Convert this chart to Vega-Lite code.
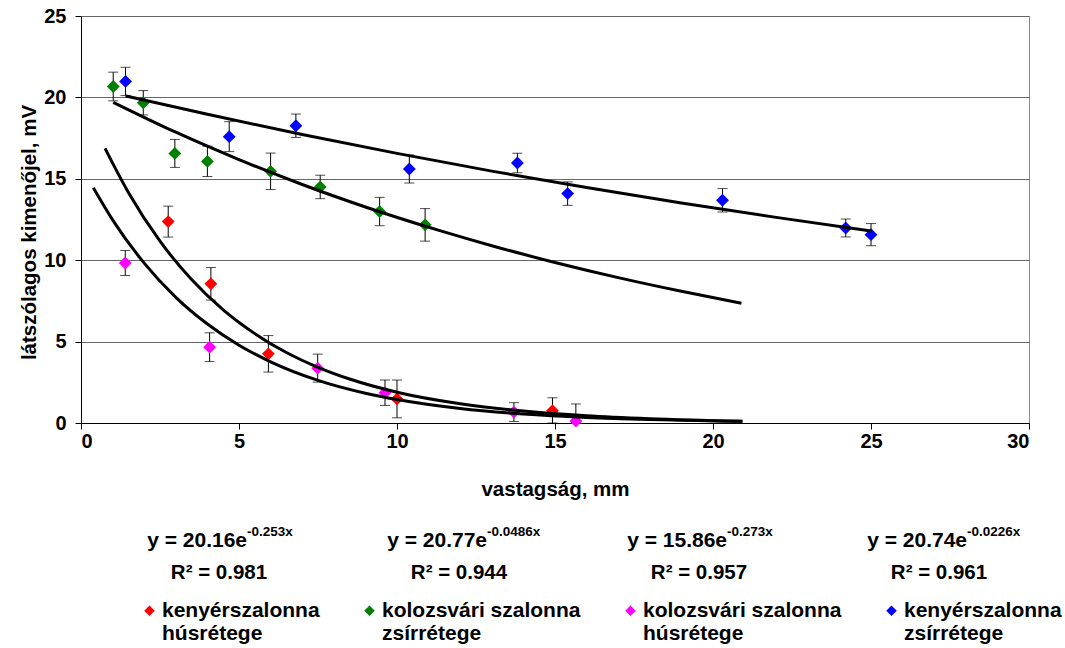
{
  "$schema": "https://vega.github.io/schema/vega-lite/v6.json",
  "padding": {"left": 19, "top": 5, "right": 0, "bottom": 0},
  "background": "white",
  "spacing": 0,
  "config": {
    "font": "Liberation Sans",
    "view": {"stroke": null},
    "axis": {
      "labelFont": "Liberation Sans", "labelFontWeight": "bold", "labelFontSize": 20, "labelColor": "black",
      "titleFont": "Liberation Sans", "titleFontWeight": "bold", "titleFontSize": 20.5, "titleColor": "black",
      "domainColor": "black", "tickColor": "black", "tickSize": 6, "gridColor": "#666666", "gridWidth": 1
    }
  },
  "datasets": {
    "pts": [
      {"series": "kenyérszalonna húsrétege", "x": 2.76, "y": 12.37, "lo": 11.42, "hi": 13.32},
      {"series": "kenyérszalonna húsrétege", "x": 4.11, "y": 8.55, "lo": 7.55, "hi": 9.55},
      {"series": "kenyérszalonna húsrétege", "x": 5.93, "y": 4.25, "lo": 3.13, "hi": 5.37},
      {"series": "kenyérszalonna húsrétege", "x": 10.0, "y": 1.48, "lo": 0.32, "hi": 2.64},
      {"series": "kenyérszalonna húsrétege", "x": 14.92, "y": 0.75, "lo": 0.0, "hi": 1.55},
      {"series": "kolozsvári szalonna zsírrétege", "x": 1.02, "y": 20.67, "lo": 19.79, "hi": 21.55},
      {"series": "kolozsvári szalonna zsírrétege", "x": 1.97, "y": 19.67, "lo": 18.92, "hi": 20.42},
      {"series": "kolozsvári szalonna zsírrétege", "x": 2.97, "y": 16.56, "lo": 15.7, "hi": 17.42},
      {"series": "kolozsvári szalonna zsírrétege", "x": 4.0, "y": 16.07, "lo": 15.14, "hi": 17.0},
      {"series": "kolozsvári szalonna zsírrétege", "x": 6.0, "y": 15.46, "lo": 14.34, "hi": 16.58},
      {"series": "kolozsvári szalonna zsírrétege", "x": 7.57, "y": 14.5, "lo": 13.78, "hi": 15.22},
      {"series": "kolozsvári szalonna zsírrétege", "x": 9.45, "y": 12.99, "lo": 12.12, "hi": 13.86},
      {"series": "kolozsvári szalonna zsírrétege", "x": 10.89, "y": 12.17, "lo": 11.17, "hi": 13.17},
      {"series": "kolozsvári szalonna húsrétege", "x": 1.4, "y": 9.83, "lo": 9.06, "hi": 10.6},
      {"series": "kolozsvári szalonna húsrétege", "x": 4.07, "y": 4.66, "lo": 3.78, "hi": 5.54},
      {"series": "kolozsvári szalonna húsrétege", "x": 7.49, "y": 3.37, "lo": 2.51, "hi": 4.23},
      {"series": "kolozsvári szalonna húsrétege", "x": 9.62, "y": 1.86, "lo": 1.08, "hi": 2.64},
      {"series": "kolozsvári szalonna húsrétege", "x": 13.7, "y": 0.67, "lo": 0.09, "hi": 1.25},
      {"series": "kolozsvári szalonna húsrétege", "x": 15.66, "y": 0.12, "lo": 0.0, "hi": 1.17},
      {"series": "kenyérszalonna zsírrétege", "x": 1.41, "y": 20.98, "lo": 20.11, "hi": 21.85},
      {"series": "kenyérszalonna zsírrétege", "x": 4.69, "y": 17.59, "lo": 16.67, "hi": 18.51},
      {"series": "kenyérszalonna zsírrétege", "x": 6.8, "y": 18.26, "lo": 17.54, "hi": 18.98},
      {"series": "kenyérszalonna zsírrétege", "x": 10.39, "y": 15.6, "lo": 14.74, "hi": 16.46},
      {"series": "kenyérszalonna zsírrétege", "x": 13.81, "y": 15.97, "lo": 15.37, "hi": 16.57},
      {"series": "kenyérszalonna zsírrétege", "x": 15.4, "y": 14.09, "lo": 13.37, "hi": 14.81},
      {"series": "kenyérszalonna zsírrétege", "x": 20.3, "y": 13.68, "lo": 12.96, "hi": 14.4},
      {"series": "kenyérszalonna zsírrétege", "x": 24.2, "y": 11.98, "lo": 11.43, "hi": 12.53},
      {"series": "kenyérszalonna zsírrétege", "x": 25.0, "y": 11.57, "lo": 10.89, "hi": 12.25}
    ],
    "trend": [
      {"series": "kenyérszalonna húsrétege", "x": 0.76, "y": 16.87},
      {"series": "kenyérszalonna húsrétege", "x": 1.5, "y": 14.16},
      {"series": "kenyérszalonna húsrétege", "x": 2.5, "y": 11.17},
      {"series": "kenyérszalonna húsrétege", "x": 3.5, "y": 8.81},
      {"series": "kenyérszalonna húsrétege", "x": 4.5, "y": 6.95},
      {"series": "kenyérszalonna húsrétege", "x": 5.5, "y": 5.49},
      {"series": "kenyérszalonna húsrétege", "x": 6.5, "y": 4.33},
      {"series": "kenyérszalonna húsrétege", "x": 7.5, "y": 3.42},
      {"series": "kenyérszalonna húsrétege", "x": 8.5, "y": 2.7},
      {"series": "kenyérszalonna húsrétege", "x": 10.0, "y": 1.89},
      {"series": "kenyérszalonna húsrétege", "x": 12.0, "y": 1.18},
      {"series": "kenyérszalonna húsrétege", "x": 14.0, "y": 0.73},
      {"series": "kenyérszalonna húsrétege", "x": 16.0, "y": 0.44},
      {"series": "kenyérszalonna húsrétege", "x": 18.0, "y": 0.26},
      {"series": "kenyérszalonna húsrétege", "x": 20.93, "y": 0.1},
      {"series": "kolozsvári szalonna húsrétege", "x": 0.39, "y": 14.45},
      {"series": "kolozsvári szalonna húsrétege", "x": 1.0, "y": 12.48},
      {"series": "kolozsvári szalonna húsrétege", "x": 2.0, "y": 9.82},
      {"series": "kolozsvári szalonna húsrétege", "x": 3.0, "y": 7.72},
      {"series": "kolozsvári szalonna húsrétege", "x": 4.0, "y": 6.08},
      {"series": "kolozsvári szalonna húsrétege", "x": 5.0, "y": 4.78},
      {"series": "kolozsvári szalonna húsrétege", "x": 6.0, "y": 3.76},
      {"series": "kolozsvári szalonna húsrétege", "x": 7.5, "y": 2.62},
      {"series": "kolozsvári szalonna húsrétege", "x": 9.0, "y": 1.83},
      {"series": "kolozsvári szalonna húsrétege", "x": 10.0, "y": 1.44},
      {"series": "kolozsvári szalonna húsrétege", "x": 12.0, "y": 0.89},
      {"series": "kolozsvári szalonna húsrétege", "x": 14.0, "y": 0.55},
      {"series": "kolozsvári szalonna húsrétege", "x": 16.0, "y": 0.34},
      {"series": "kolozsvári szalonna húsrétege", "x": 18.0, "y": 0.21},
      {"series": "kolozsvári szalonna húsrétege", "x": 20.93, "y": 0.1},
      {"series": "kolozsvári szalonna zsírrétege", "x": 1.02, "y": 19.7},
      {"series": "kolozsvári szalonna zsírrétege", "x": 3.0, "y": 17.86},
      {"series": "kolozsvári szalonna zsírrétege", "x": 5.0, "y": 16.18},
      {"series": "kolozsvári szalonna zsírrétege", "x": 7.0, "y": 14.65},
      {"series": "kolozsvári szalonna zsírrétege", "x": 9.0, "y": 13.27},
      {"series": "kolozsvári szalonna zsírrétege", "x": 11.33, "y": 11.83},
      {"series": "kolozsvári szalonna zsírrétege", "x": 13.0, "y": 10.89},
      {"series": "kolozsvári szalonna zsírrétege", "x": 15.0, "y": 9.86},
      {"series": "kolozsvári szalonna zsírrétege", "x": 17.0, "y": 8.93},
      {"series": "kolozsvári szalonna zsírrétege", "x": 19.0, "y": 8.09},
      {"series": "kolozsvári szalonna zsírrétege", "x": 20.9, "y": 7.36},
      {"series": "kenyérszalonna zsírrétege", "x": 1.41, "y": 20.09},
      {"series": "kenyérszalonna zsírrétege", "x": 4.0, "y": 18.96},
      {"series": "kenyérszalonna zsírrétege", "x": 7.0, "y": 17.72},
      {"series": "kenyérszalonna zsírrétege", "x": 10.0, "y": 16.56},
      {"series": "kenyérszalonna zsírrétege", "x": 13.0, "y": 15.47},
      {"series": "kenyérszalonna zsírrétege", "x": 16.0, "y": 14.46},
      {"series": "kenyérszalonna zsírrétege", "x": 19.0, "y": 13.51},
      {"series": "kenyérszalonna zsírrétege", "x": 22.0, "y": 12.63},
      {"series": "kenyérszalonna zsírrétege", "x": 25.0, "y": 11.8}
    ],
    "eqs": [
      {"series": "kenyérszalonna húsrétege", "eq": "y = 20.16e", "exp": "-0.253x", "r2": "R² = 0.981"},
      {"series": "kolozsvári szalonna zsírrétege", "eq": "y = 20.77e", "exp": "-0.0486x", "r2": "R² = 0.944"},
      {"series": "kolozsvári szalonna húsrétege", "eq": "y = 15.86e", "exp": "-0.273x", "r2": "R² = 0.957"},
      {"series": "kenyérszalonna zsírrétege", "eq": "y = 20.74e", "exp": "-0.0226x", "r2": "R² = 0.961"}
    ]
  },
  "vconcat": [
    {
      "width": 948,
      "height": 407,
      "view": {"stroke": "#888888"},
      "layer": [
        {
          "data": {"name": "pts"},
          "mark": {"type": "rule", "color": "black", "strokeWidth": 1},
          "encoding": {
            "x": {"field": "x", "type": "quantitative", "title": "vastagság, mm",
                  "scale": {"domain": [0, 30], "nice": false},
                  "axis": {"values": [0, 5, 10, 15, 20, 25, 30], "grid": false, "labelPadding": 2, "titlePadding": 28}},
            "y": {"field": "lo", "type": "quantitative", "title": "látszólagos kimenőjel, mV",
                  "scale": {"domain": [0, 25], "nice": false},
                  "axis": {"values": [0, 5, 10, 15, 20, 25], "grid": true, "labelPadding": 9, "titlePadding": 4, "titleY": 216}},
            "y2": {"field": "hi"}
          }
        },
        {
          "data": {"name": "pts"},
          "mark": {"type": "tick", "orient": "horizontal", "color": "black", "size": 10, "thickness": 1},
          "encoding": {
            "x": {"field": "x", "type": "quantitative", "title": "vastagság, mm"},
            "y": {"field": "lo", "type": "quantitative", "title": "látszólagos kimenőjel, mV"}
          }
        },
        {
          "data": {"name": "pts"},
          "mark": {"type": "tick", "orient": "horizontal", "color": "black", "size": 10, "thickness": 1},
          "encoding": {
            "x": {"field": "x", "type": "quantitative", "title": "vastagság, mm"},
            "y": {"field": "hi", "type": "quantitative", "title": "látszólagos kimenőjel, mV"}
          }
        },
        {
          "data": {"name": "pts"},
          "mark": {"type": "point", "shape": "diamond", "filled": true, "size": 165, "opacity": 1},
          "encoding": {
            "x": {"field": "x", "type": "quantitative", "title": "vastagság, mm"},
            "y": {"field": "y", "type": "quantitative", "title": "látszólagos kimenőjel, mV"},
            "color": {
              "field": "series", "type": "nominal",
              "scale": {
                "domain": ["kenyérszalonna húsrétege", "kolozsvári szalonna zsírrétege", "kolozsvári szalonna húsrétege", "kenyérszalonna zsírrétege"],
                "range": ["#ff0000", "#008000", "#ff00ff", "#0000ff"]
              },
              "legend": {
                "orient": "none", "legendX": 58, "legendY": 584,
                "direction": "horizontal", "columns": 4, "title": null,
                "symbolType": "diamond", "symbolSize": 110, "symbolStrokeWidth": 0,
                "labelFont": "Liberation Sans", "labelFontSize": 21, "labelFontWeight": "bold", "labelColor": "black",
                "labelLimit": 400, "labelOffset": 2, "columnPadding": 39,
                "labelExpr": "[slice(datum.label, 0, lastindexof(datum.label, ' ')), slice(datum.label, lastindexof(datum.label, ' ') + 1)]",
                "encode": {"labels": {"update": {"lineHeight": {"value": 25}, "dy": {"value": 12.5}}}}
              }
            }
          }
        },
        {
          "data": {"name": "trend"},
          "mark": {"type": "line", "color": "black", "strokeWidth": 3, "interpolate": "monotone"},
          "encoding": {
            "x": {"field": "x", "type": "quantitative", "title": "vastagság, mm"},
            "y": {"field": "y", "type": "quantitative", "title": "látszólagos kimenőjel, mV"},
            "detail": {"field": "series", "type": "nominal"}
          }
        }
      ]
    },
    {
      "width": 978,
      "height": 80,
      "data": {"name": "eqs"},
      "encoding": {
        "x": {
          "field": "series", "type": "nominal",
          "sort": ["kenyérszalonna húsrétege", "kolozsvári szalonna zsírrétege", "kolozsvári szalonna húsrétege", "kenyérszalonna zsírrétege"],
          "scale": {"type": "band", "paddingInner": 0, "paddingOuter": 0.0375, "align": 1},
          "axis": null
        }
      },
      "layer": [
        {
          "mark": {"type": "text", "align": "right", "baseline": "middle", "dx": 28, "dy": 1, "fontSize": 21, "fontWeight": "bold", "color": "black"},
          "encoding": {"text": {"field": "eq"}}
        },
        {
          "mark": {"type": "text", "align": "left", "baseline": "middle", "dx": 28, "dy": -8, "fontSize": 13.5, "fontWeight": "bold", "color": "black"},
          "encoding": {"text": {"field": "exp"}}
        },
        {
          "mark": {"type": "text", "align": "center", "baseline": "middle", "dy": 33, "fontSize": 20.5, "fontWeight": "bold", "color": "black"},
          "encoding": {"text": {"field": "r2"}}
        }
      ]
    }
  ]
}
